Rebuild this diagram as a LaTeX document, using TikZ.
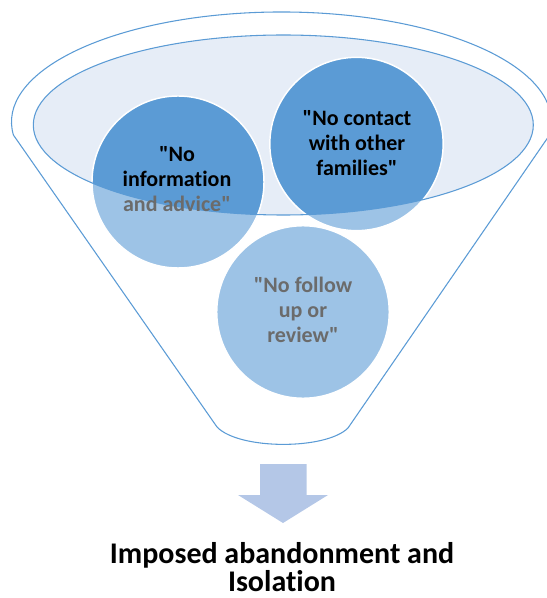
\documentclass[tikz,border=0pt]{standalone}
\usepackage{fontspec}
\setmainfont{Carlito}[Ligatures={TeXOff,NoCommon}]
\definecolor{dkblue}{HTML}{5B9BD5}
\definecolor{ltblue}{HTML}{9DC3E6}
\definecolor{ellfill}{HTML}{E6EDF7}
\definecolor{arrowblue}{HTML}{B4C7E7}
\definecolor{txtgray}{HTML}{6B6B6B}
\tikzset{
  outline/.style={draw=dkblue, line width=0.8pt},
  bubble/.style={draw=white, line width=1.1pt},
  bubbletext/.style={align=center, font=\bfseries\fontsize{16.5}{18.75}\selectfont, inner sep=0pt},
  resulttext/.style={align=center, font=\bfseries\fontsize{22.5}{21.5}\selectfont, inner sep=0pt}
}
\begin{document}
\begin{tikzpicture}[x=0.75pt,y=-0.75pt]
\useasboundingbox (0,0) rectangle (546,598);
% funnel outline
\draw[outline] (13.4,135) arc[start angle=186.8,end angle=-6.8,x radius=202.5pt,y radius=82.5pt]
  -- (348,428) .. controls (326,450) and (239,450) .. (217,427) -- cycle;
% inner ellipse fill
\fill[ellfill] (283.3,125) ellipse[x radius=187.5pt, y radius=67.5pt];
% circles (light)
\fill[ltblue] (178,182) circle[radius=64.5pt];
\fill[ltblue] (356.5,144) circle[radius=65pt];
\fill[ltblue] (303,312) circle[radius=64.7pt];
% dark part inside ellipse
\begin{scope}
  \clip (283.3,125) ellipse[x radius=187.5pt, y radius=67.5pt];
  \fill[dkblue] (178,182) circle[radius=64.5pt];
  \fill[dkblue] (356.5,144) circle[radius=65pt];
\end{scope}
\draw[bubble] (178,182) circle[radius=64.5pt];
\draw[bubble] (356.5,144) circle[radius=65pt];
\draw[bubble] (303,312) circle[radius=64.7pt];
% inner ellipse outline
\draw[outline] (283.3,125) ellipse[x radius=187.5pt, y radius=67.5pt];
% texts
\node[bubbletext] (t1) at (177,179) {"No\\information\\\textcolor{txtgray}{and advice"}};
\node[bubbletext] (t2) at (357,143) {"No contact\\with other\\families"};
\node[bubbletext, text=txtgray] (t3) at (303,310) {"No follow\\up or\\review"};
% arrow
\fill[arrowblue] (260,464) -- (306.7,464) -- (306.7,495) -- (328,495) -- (283,523) -- (238,495) -- (260,495) -- cycle;
\node[resulttext] (res) at (282,567) {Imposed abandonment and\\Isolation};
\end{tikzpicture}
\end{document}
